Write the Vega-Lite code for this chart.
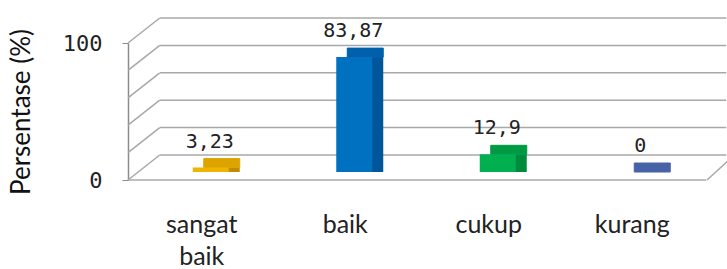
{
  "$schema": "https://vega.github.io/schema/vega-lite/v6.json",
  "width": 574,
  "height": 137,
  "autosize": {"type": "none"},
  "padding": {"left": 130, "top": 35, "right": 23, "bottom": 97},
  "background": "white",
  "datasets": {
    "bars": [
      {"cat": "sangat baik", "value": 3.23, "label": "3,23"},
      {"cat": "baik", "value": 83.87, "label": "83,87"},
      {"cat": "cukup", "value": 12.9, "label": "12,9"},
      {"cat": "kurang", "value": 0, "label": "0"}
    ],
    "grid": [{"v": 0}, {"v": 20}, {"v": 40}, {"v": 60}, {"v": 80}, {"v": 100}],
    "floor": [{"v": 0}]
  },
  "layer": [
    {
      "data": {"name": "grid"},
      "mark": {"type": "rule", "color": "#A8A8A8", "strokeWidth": 1.5, "xOffset": 30, "x2Offset": 94, "yOffset": -17},
      "encoding": {
        "x": {"datum": "sangat baik", "bandPosition": 0, "type": "nominal",
              "scale": {"domain": ["sangat baik", "baik", "cukup", "kurang"], "paddingInner": 0, "paddingOuter": 0},
              "axis": {"title": null, "domain": false, "ticks": false, "labelAngle": 0, "labelAlign": "center", "labelFont": "Lato", "labelFontSize": 25, "labelColor": "#222222", "labelPadding": 40, "labelLineHeight": 32, "labelBaseline": "top", "labelLimit": 0, "labelExpr": "split(datum.label, ' ')"}},
        "x2": {"datum": "kurang"},
        "y": {"field": "v", "type": "quantitative", "scale": {"domain": [0, 100], "nice": false},
              "axis": {"values": [0, 100], "title": "Persentase (%)", "grid": false, "translate": 8.5, "offset": 10, "tickSize": 6, "labelPadding": 20, "labelFont": "DejaVu Sans Mono", "labelFontSize": 22, "labelColor": "#222222", "domainColor": "#8C8C8C", "tickColor": "#8C8C8C", "domainWidth": 1.5, "titleFont": "Lato", "titleFontSize": 26, "titleFontWeight": "normal", "titleColor": "#111111", "titlePadding": 28}}
      }
    },
    {
      "data": {"name": "grid"},
      "mark": {"type": "rule", "color": "#A8A8A8", "strokeWidth": 1.5, "xOffset": -2, "x2Offset": -42, "yOffset": 8, "y2Offset": -17},
      "encoding": {
        "x": {"datum": "sangat baik", "bandPosition": 0, "type": "nominal"},
        "x2": {"datum": "sangat baik"},
        "y": {"field": "v", "type": "quantitative"},
        "y2": {"field": "v"}
      }
    },
    {
      "data": {"name": "floor"},
      "mark": {"type": "rule", "color": "#A8A8A8", "strokeWidth": 1.5, "xOffset": -2, "x2Offset": 74, "yOffset": 8},
      "encoding": {
        "x": {"datum": "sangat baik", "bandPosition": 0, "type": "nominal"},
        "x2": {"datum": "kurang"},
        "y": {"field": "v", "type": "quantitative"}
      }
    },
    {
      "data": {"name": "floor"},
      "mark": {"type": "rule", "color": "#A8A8A8", "strokeWidth": 1.5, "xOffset": 3, "x2Offset": 102, "yOffset": 8, "y2Offset": -17},
      "encoding": {
        "x": {"datum": "kurang", "bandPosition": 1, "type": "nominal"},
        "x2": {"datum": "kurang"},
        "y": {"field": "v", "type": "quantitative"},
        "y2": {"field": "v"}
      }
    },
    {
      "data": {"name": "bars"},
      "mark": {"type": "bar", "size": 36, "xOffset": 20},
      "encoding": {
        "x": {"field": "cat", "type": "nominal", "sort": null},
        "y": {"field": "value", "type": "quantitative"},
        "color": {"field": "cat", "type": "nominal", "scale": {"domain": ["sangat baik", "baik", "cukup", "kurang"], "range": ["#C08C00", "#00569A", "#008A3C", "#3A5694"]}, "legend": null}
      }
    },
    {
      "data": {"name": "bars"},
      "mark": {"type": "tick", "size": 36, "thickness": 9, "xOffset": 20, "yOffset": -4.5, "opacity": 1},
      "encoding": {
        "x": {"field": "cat", "type": "nominal", "sort": null},
        "y": {"field": "value", "type": "quantitative"},
        "stroke": {"field": "cat", "type": "nominal", "scale": {"domain": ["sangat baik", "baik", "cukup", "kurang"], "range": ["#DDA400", "#0060AC", "#009A45", "#4862A8"]}, "legend": null},
        "fill": {"field": "cat", "type": "nominal", "scale": {"domain": ["sangat baik", "baik", "cukup", "kurang"], "range": ["#DDA400", "#0060AC", "#009A45", "#4862A8"]}, "legend": null}
      }
    },
    {
      "data": {"name": "bars"},
      "mark": {"type": "bar", "size": 36, "xOffset": 9},
      "encoding": {
        "x": {"field": "cat", "type": "nominal", "sort": null},
        "y": {"field": "value", "type": "quantitative"},
        "fill": {"field": "cat", "type": "nominal", "scale": {"domain": ["sangat baik", "baik", "cukup", "kurang"], "range": ["#EEB400", "#0070C0", "#00B050", "#4F6CB0"]}, "legend": null}
      }
    },
    {
      "data": {"name": "bars"},
      "mark": {"type": "text", "dx": 8, "dy": -26, "baseline": "middle", "font": "DejaVu Sans Mono", "fontSize": 20, "color": "#222222"},
      "encoding": {
        "x": {"field": "cat", "type": "nominal", "sort": null},
        "y": {"field": "value", "type": "quantitative"},
        "text": {"field": "label"}
      }
    }
  ],
  "resolve": {"scale": {"color": "independent", "fill": "independent", "stroke": "independent"}},
  "config": {"view": {"stroke": null}}
}
